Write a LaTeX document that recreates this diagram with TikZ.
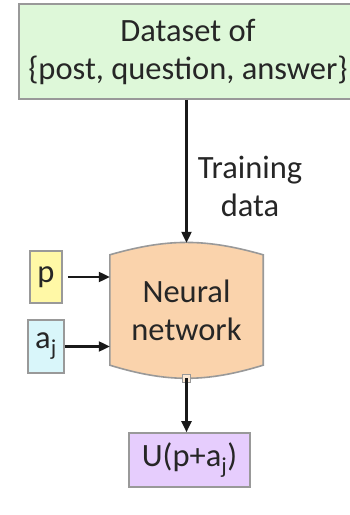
\documentclass[tikz,border=0pt]{standalone}
\usepackage{fontspec}
\setmainfont{Carlito}
\usetikzlibrary{arrows.meta,backgrounds}
\definecolor{datagreen}{HTML}{DEF8D9}
\definecolor{nnpeach}{HTML}{FAD3AC}
\definecolor{pyellow}{HTML}{FFF8A6}
\definecolor{acyan}{HTML}{D9F6FA}
\definecolor{ulilac}{HTML}{E6CDFD}
\begin{document}
\begin{tikzpicture}[x=1pt,y=1pt,
    font=\fontsize{32.5}{38}\selectfont, text=black!85,
    box/.style={draw=black!40, line width=1.6pt, inner sep=0pt, align=center},
    arr/.style={-{Triangle[length=11pt,width=10pt]}, line width=2.2pt, black!90}]
    \useasboundingbox (0,0) rectangle (349,515);
    \node[box, fill=datagreen, minimum width=338pt, minimum height=95pt] (data) at (188,463.5)
        {Dataset of\\\{post, question, answer\}};
    \node[align=center] (train) at (250,329) {Training\\data};
    \node[align=center, minimum width=153pt, minimum height=135pt] (nn) at (186.5,204.5) {Neural\\network};
    \begin{scope}[on background layer]
        \draw[draw=black!40, line width=1.6pt, fill=nnpeach]
            ([yshift=-12pt]nn.north west) to[bend left=16] ([yshift=-12pt]nn.north east)
            -- ([yshift=13pt]nn.south east) to[bend left=17] ([yshift=13pt]nn.south west) -- cycle;
    \end{scope}
    \node[box, fill=pyellow, minimum width=32pt, minimum height=52pt] (p) at (46,238) {p};
    \node[box, fill=acyan, minimum width=36pt, minimum height=53pt] (a) at (46,168.5) {a\textsubscript{j}};
    \node[box, fill=ulilac, minimum width=121pt, minimum height=54pt] (u) at (189.5,55) {U(p+a\textsubscript{j})};
    \node[draw=black!40, line width=1pt, fill=nnpeach!50, minimum size=8pt, inner sep=0pt] (knob) at (nn.south) {};
    \draw[arr] (data.south -| nn.north) -- (nn.north);
    \draw[arr, shorten <=5pt] (p.east) -- (p.east -| nn.west);
    \draw[arr] (a.east) -- (a.east -| nn.west);
    \draw[arr] (nn.south) -- (nn.south |- u.north);
\end{tikzpicture}
\end{document}
